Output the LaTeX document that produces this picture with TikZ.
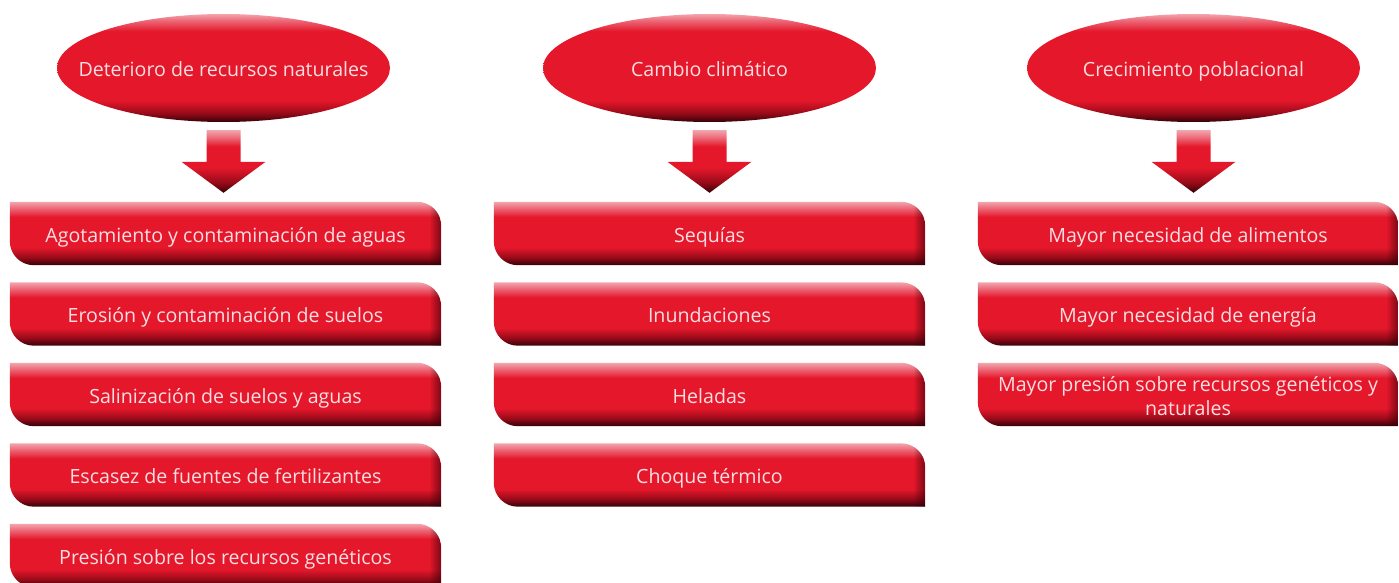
\documentclass[tikz,border=0pt]{standalone}
\usepackage{fontspec}
\setmainfont{Open Sans}
\usetikzlibrary{shapes.geometric,fadings}

\definecolor{rjo}{RGB}{229,23,43}
\definecolor{rsa}{RGB}{243,165,174}
\definecolor{rsb}{RGB}{236,104,119}
\definecolor{grn}{RGB}{150,10,24}
\definecolor{osc}{RGB}{52,2,8}
\definecolor{txt}{RGB}{251,222,226}

\pgfdeclareverticalshading{caja}{100bp}{color(0bp)=(osc); color(25bp)=(osc); color(31bp)=(grn);
    color(39bp)=(rjo); color(63bp)=(rjo); color(70bp)=(rsb); color(75bp)=(rsa); color(100bp)=(rsa)}
\pgfdeclareverticalshading{elipse}{100bp}{color(0bp)=(osc); color(25bp)=(osc); color(29bp)=(grn);
    color(35bp)=(rjo); color(67bp)=(rjo); color(72bp)=(rsb); color(75bp)=(rsa); color(100bp)=(rsa)}
\pgfdeclareverticalshading{flecha}{100bp}{color(0bp)=(osc); color(25bp)=(osc); color(33bp)=(grn);
    color(45bp)=(rjo); color(62bp)=(rjo); color(69bp)=(rsb); color(75bp)=(rsa); color(100bp)=(rsa)}
\tikzfading[name=fade right, left color=transparent!100, right color=transparent!0]

\tikzstyle{mapa}=[
    x=1pt, y=1pt,
    causa/.style={ellipse, shade, shading=elipse, minimum width=333pt, minimum height=108pt,
        inner sep=0pt, text=txt, font={\fontsize{19.6}{24}\selectfont}, linea},
    efecto/.style={minimum width=431pt, minimum height=63pt, inner sep=0pt, align=center,
        text=txt, font={\fontsize{19.6}{24}\selectfont}},
    linea/.style={text height=20pt, text depth=3pt},
    doble/.style={text height=44pt, text depth=3pt},
]
\pgfdeclarelayer{background}
\pgfsetlayers{background,main}
\newcommand{\efectos}[3][]{
    \begin{scope}[#1]
    \foreach \t/\s [count=\i] in {#3}{
        \node[efecto,\s] (#2-\i) at (0,{-80.5*(\i-1)}) {\t};
        \begin{pgfonlayer}{background}
        \begin{scope}
        \clip (#2-\i.north west) -- ([xshift=-24pt]#2-\i.north east)
            arc[start angle=90, end angle=0, radius=24pt]
            -- (#2-\i.south east) -- ([xshift=24pt]#2-\i.south west)
            arc[start angle=270, end angle=180, radius=24pt] -- cycle;
        \shade[shading=caja] (#2-\i.north west) rectangle (#2-\i.south east);
        \fill[osc, path fading=fade right, opacity=.6]
            ([xshift=-12pt]#2-\i.north east) rectangle (#2-\i.south east);
        \end{scope}
        \end{pgfonlayer}
    }
    \end{scope}
}
\newcommand{\flecha}[2]{
    \coordinate (arr-top) at ([yshift=-8pt]#1.south);
    \coordinate (arr-tip) at ([yshift=9pt]#1.south |- #2.north);
    \shade[shading=flecha] ([xshift=-17pt]arr-top) -- ([xshift=17pt]arr-top)
        -- ([xshift=17pt,yshift=31pt]arr-tip) -- ([xshift=42pt,yshift=31pt]arr-tip)
        -- (arr-tip)
        -- ([xshift=-42pt,yshift=31pt]arr-tip) -- ([xshift=-17pt,yshift=31pt]arr-tip)
        -- cycle;
}

\begin{document}
\begin{tikzpicture}[mapa]
    \useasboundingbox (0,0) rectangle (1399,-583);

    % causas
    \node[causa] (det) at (223.5,-68) {\makebox[0pt]{Deterioro de recursos naturales}};
    \node[causa] (cli) at (709.5,-68) {\makebox[0pt]{Cambio climático}};
    \node[causa] (pob) at (1193.5,-68) {\makebox[0pt]{Crecimiento poblacional}};

    % efectos
    \efectos[shift={(225.5,-233.5)}]{det}{Agotamiento y contaminación de aguas/linea,
        Erosión y contaminación de suelos/linea, Salinización de suelos y aguas/linea,
        Escasez de fuentes de fertilizantes/linea, Presión sobre los recursos genéticos/linea}
    \efectos[shift={(709.5,-233.5)}]{cli}{Sequías/linea, Inundaciones/linea, Heladas/linea,
        Choque térmico/linea}
    \efectos[shift={(1188,-233.5)}, efecto/.append style={minimum width=420pt}]{pob}{Mayor necesidad de alimentos/linea,
        Mayor necesidad de energía/linea, {Mayor presión sobre recursos genéticos y\\naturales}/doble}

    \flecha{det}{det-1}
    \flecha{cli}{cli-1}
    \flecha{pob}{pob-1}
\end{tikzpicture}
\end{document}
